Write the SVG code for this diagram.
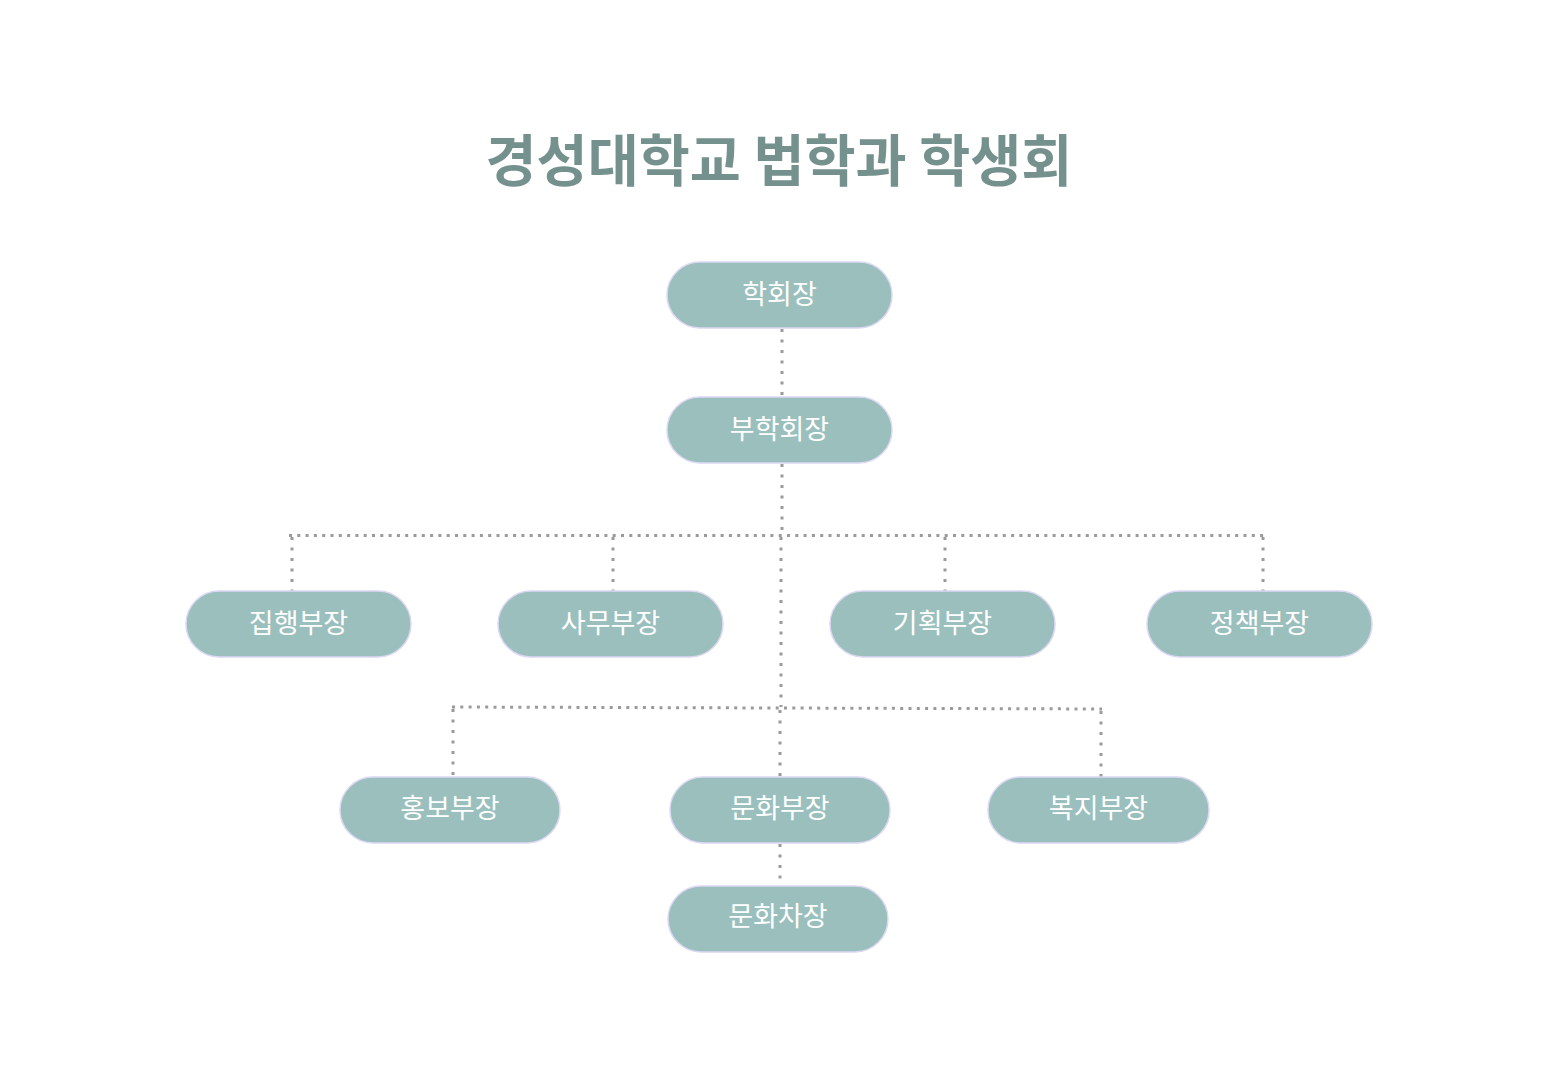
<svg xmlns="http://www.w3.org/2000/svg" width="1559" height="1091" viewBox="0 0 1559 1091">
<style>
.node rect{fill:#9abfbd;stroke:#dcd8f4;stroke-width:1.5}
.node text{fill:#ffffff;font-family:"Noto Sans CJK KR","Noto Sans",sans-serif;font-size:27px;text-anchor:middle}
.v{stroke:#9a9a9a;stroke-width:3;fill:none;stroke-dasharray:3 7.5}
.h{stroke:#9a9a9a;stroke-width:3;fill:none;stroke-dasharray:3 5.3}
.title{fill:#75918d;font-family:"Noto Sans CJK KR","Noto Sans",sans-serif;font-size:55.5px;font-weight:bold;text-anchor:middle}
</style>
<rect width="1559" height="1091" fill="#ffffff"/>
<text class="title" x="779" y="181">경성대학교 법학과 학생회</text>
<g id="connectors">
<line class="v" x1="782" y1="329" x2="782" y2="397"/>
<line class="v" x1="782" y1="464" x2="782" y2="535"/>
<line class="h" x1="289" y1="535.5" x2="1265" y2="535.5"/>
<line class="v" x1="292" y1="537" x2="292" y2="591"/>
<line class="v" x1="613" y1="537" x2="613" y2="591"/>
<line class="v" x1="945" y1="537" x2="945" y2="591"/>
<line class="v" x1="1263" y1="537" x2="1263" y2="591"/>
<line class="v" x1="781" y1="537" x2="781" y2="707"/>
<line class="h" x1="452" y1="707" x2="1102" y2="709"/>
<line class="v" x1="453" y1="709" x2="453" y2="777"/>
<line class="v" x1="780" y1="710" x2="780" y2="777"/>
<line class="v" x1="1101" y1="711" x2="1101" y2="777"/>
<line class="v" x1="780" y1="844" x2="780" y2="886"/>
</g>
<g id="n1" class="node"><rect x="667" y="262" width="225" height="66" rx="33"/><text x="779.5" y="304">학회장</text></g>
<g id="n2" class="node"><rect x="667" y="397" width="225" height="66" rx="33"/><text x="779.5" y="439">부학회장</text></g>
<g id="n3" class="node"><rect x="186" y="591" width="225" height="66" rx="33"/><text x="298.5" y="633">집행부장</text></g>
<g id="n4" class="node"><rect x="498" y="591" width="225" height="66" rx="33"/><text x="610.5" y="633">사무부장</text></g>
<g id="n5" class="node"><rect x="830" y="591" width="225" height="66" rx="33"/><text x="942.5" y="633">기획부장</text></g>
<g id="n6" class="node"><rect x="1147" y="591" width="225" height="66" rx="33"/><text x="1259.5" y="633">정책부장</text></g>
<g id="n7" class="node"><rect x="340" y="777" width="220" height="66" rx="33"/><text x="450" y="818">홍보부장</text></g>
<g id="n8" class="node"><rect x="670" y="777" width="220" height="66" rx="33"/><text x="780" y="818">문화부장</text></g>
<g id="n9" class="node"><rect x="988" y="777" width="221" height="66" rx="33"/><text x="1098.5" y="818">복지부장</text></g>
<g id="n10" class="node"><rect x="668" y="886" width="220" height="66" rx="33"/><text x="778" y="926">문화차장</text></g>
</svg>
